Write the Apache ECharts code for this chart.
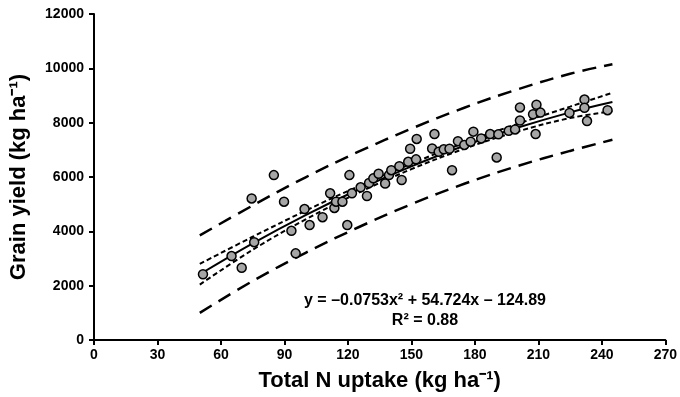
<!DOCTYPE html>
<html>
<head>
<meta charset="utf-8">
<script src="https://cdn.jsdelivr.net/npm/echarts@6/dist/echarts.min.js"></script>
<style>html,body{margin:0;padding:0;background:#fff;}#c{width:680px;height:397px;}</style>
</head>
<body>
<div id="c"></div>
<script>
// Observed data (Total N uptake, Grain yield)
const uptake = [51.5, 65, 69.8, 74.5, 75.7, 85, 89.8, 93.3, 95.3, 99.5, 101.9, 108, 111.6, 113.6, 114.4, 117.4, 119.7, 120.7, 121.9, 126, 129, 130, 132, 134.5, 137.6, 139.4, 140.5, 144.3, 145.4, 148.5, 149.4, 152.2, 152.5, 159.8, 160.9, 162.9, 165.3, 168, 169.2, 172, 175, 178, 179.3, 183, 187.2, 190.3, 191.1, 196, 199, 201.3, 201.3, 207.5, 208.7, 209.1, 211, 224.7, 231.8, 231.8, 233, 242.7];
const yieldObs = [2420, 3090, 2660, 5210, 3600, 6070, 5090, 4020, 3190, 4820, 4230, 4520, 5400, 4860, 5090, 5090, 4230, 6070, 5400, 5620, 5300, 5780, 5950, 6120, 5760, 6070, 6250, 6400, 5890, 6560, 7040, 6650, 7400, 7050, 7580, 6930, 7020, 7040, 6250, 7320, 7180, 7300, 7670, 7420, 7580, 6720, 7570, 7700, 7750, 8560, 8080, 8310, 7580, 8660, 8370, 8360, 8850, 8550, 8060, 8460];

// Curves
const curveX  = [50, 75, 100, 125, 150, 175, 200, 225, 245];
const fitY    = [2420, 3560, 4600, 5540, 6390, 7150, 7810, 8380, 8760];
const ciUpper = [2800, 3800, 4760, 5660, 6490, 7260, 7950, 8590, 9100];
const ciLower = [2040, 3320, 4440, 5420, 6290, 7040, 7670, 8170, 8420];
const piUpper = [3850, 4950, 5990, 6930, 7780, 8550, 9220, 9800, 10150];
const piLower = [1000, 2170, 3210, 4150, 5000, 5750, 6400, 6960, 7370];

const xTicks = [0, 30, 60, 90, 120, 150, 180, 210, 240, 270];
const yTicks = [0, 2000, 4000, 6000, 8000, 10000, 12000];

const pair = (xs, ys) => xs.map((x, i) => [x, ys[i]]);
const FONT = '"Liberation Sans", Arial, sans-serif';

const lineSeries = (ys, type, width) => ({
  type: 'line', data: pair(curveX, ys), smooth: 0.4, symbol: 'none',
  lineStyle: { color: '#000', width: width, type: type }, z: 3, silent: true
});

const chart = echarts.init(document.getElementById('c'), null, { renderer: 'canvas' });
chart.setOption({
  animation: false,
  backgroundColor: '#fff',
  grid: { left: 93, right: 12, top: 14, bottom: 57, containLabel: false },
  xAxis: {
    type: 'value', min: xTicks[0], max: xTicks[xTicks.length - 1], interval: 30,
    axisLine: { lineStyle: { color: '#000', width: 2 } },
    axisTick: { show: true, inside: false, length: 5, lineStyle: { color: '#000', width: 2 } },
    axisLabel: { color: '#000', fontWeight: 'bold', fontSize: 14, fontFamily: FONT, margin: 8 },
    splitLine: { show: false },
    name: 'Total N uptake (kg ha⁻¹)', nameLocation: 'middle', nameGap: 30,
    nameTextStyle: { color: '#000', fontWeight: 'bold', fontSize: 22, fontFamily: FONT }
  },
  yAxis: {
    type: 'value', min: yTicks[0], max: yTicks[yTicks.length - 1], interval: 2000,
    axisLine: { show: true, lineStyle: { color: '#000', width: 2 } },
    axisTick: { show: true, inside: false, length: 5, lineStyle: { color: '#000', width: 2 } },
    axisLabel: { color: '#000', fontWeight: 'bold', fontSize: 14, fontFamily: FONT, margin: 10,
      formatter: v => String(v) },
    splitLine: { show: false },
    name: 'Grain yield (kg ha⁻¹)', nameLocation: 'middle', nameGap: 64, nameRotate: 90,
    nameTextStyle: { color: '#000', fontWeight: 'bold', fontSize: 22, fontFamily: FONT }
  },
  series: [
    lineSeries(piUpper, [14, 8], 2.5),
    lineSeries(piLower, [14, 8], 2.5),
    lineSeries(ciUpper, [5, 3], 2),
    lineSeries(ciLower, [5, 3], 2),
    lineSeries(fitY, 'solid', 2),
    {
      type: 'scatter', data: pair(uptake, yieldObs), symbol: 'circle', symbolSize: 9,
      itemStyle: { color: '#a6a6a6', borderColor: '#000', borderWidth: 1.5, opacity: 1 }, z: 4
    }
  ],
  graphic: [
    { type: 'text', x: 425, y: 301, z: 10,
      style: { text: 'y = –0.0753x² + 54.724x – 124.89', fill: '#000', font: 'bold 16px ' + FONT, textAlign: 'center', textVerticalAlign: 'middle' } },
    { type: 'text', x: 425, y: 321, z: 10,
      style: { text: 'R² = 0.88', fill: '#000', font: 'bold 16px ' + FONT, textAlign: 'center', textVerticalAlign: 'middle' } }
  ]
});
</script>
</body>
</html>
